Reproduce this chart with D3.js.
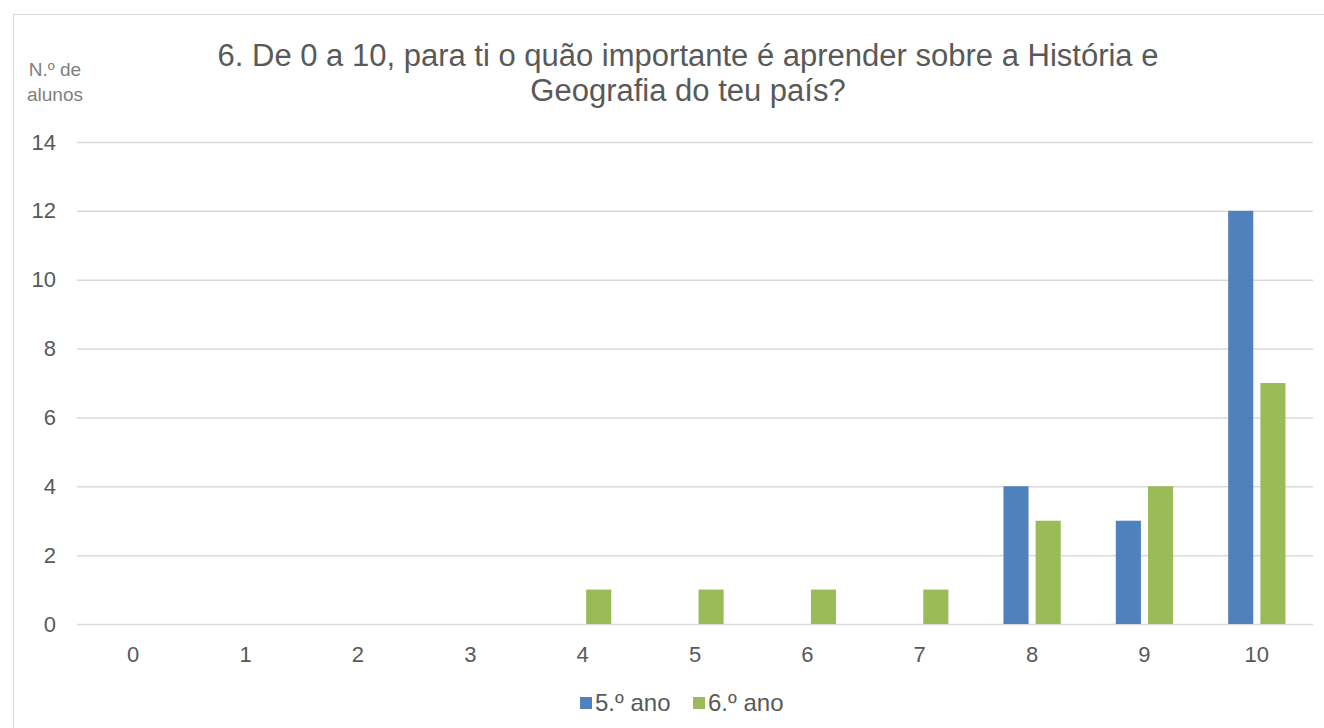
<!DOCTYPE html>
<html>
<head>
<meta charset="utf-8">
<script src="https://cdn.jsdelivr.net/npm/d3@7"></script>
<style>
  body { margin: 0; background: #fff; }
  svg { font-family: "Liberation Sans", Arial, sans-serif; }
</style>
</head>
<body>
<div id="chart"></div>
<script>
const categories = ["0", "1", "2", "3", "4", "5", "6", "7", "8", "9", "10"];
const seriesNames = ["5.º ano", "6.º ano"];
const ano5 = [0, 0, 0, 0, 0, 0, 0, 0, 4, 3, 12];
const ano6 = [0, 0, 0, 0, 1, 1, 1, 1, 3, 4, 7];
const yTicks = [0, 2, 4, 6, 8, 10, 12, 14];
const titleLines = ["6. De 0 a 10, para ti o quão importante é aprender sobre a História e", "Geografia do teu país?"];
const yLabelLines = ["N.º de", "alunos"];

const colors = ["#4F81BD", "#9BBB59"];

const width = 1324, height = 728;
const marginLeft = 77, marginRight = 11, marginTop = 142, marginBottom = 104;

const svg = d3.select("#chart").append("svg")
    .attr("width", width)
    .attr("height", height);

// chart border
svg.append("rect")
   .attr("x", 13.5).attr("y", 14.5)
   .attr("width", width).attr("height", height)
   .attr("fill", "none")
   .attr("stroke", "#d9d9d9");

const x0 = d3.scaleBand()
    .domain(categories)
    .range([marginLeft, width - marginRight])
    .paddingInner(0.49)
    .paddingOuter(0.245);

const x1 = d3.scaleBand()
    .domain(seriesNames)
    .range([0, x0.bandwidth()])
    .paddingInner(0.22);

const y = d3.scaleLinear()
    .domain([0, 14])
    .range([height - marginBottom, marginTop]);

// gridlines
svg.append("g")
   .selectAll("line")
   .data(yTicks)
   .join("line")
   .attr("x1", marginLeft).attr("x2", width - marginRight)
   .attr("y1", d => y(d) + 0.5).attr("y2", d => y(d) + 0.5)
   .attr("stroke", "#d9d9d9")
   .attr("stroke-width", 1.5);

// y axis labels
const yAxis = d3.axisLeft(y).tickValues(yTicks).tickSize(0).tickPadding(0);
const gy = svg.append("g")
   .attr("transform", `translate(56,0)`)
   .call(yAxis);
gy.select(".domain").remove();
gy.selectAll("text")
  .attr("font-size", 22)
  .attr("font-family", "'Liberation Sans', Arial, sans-serif")
  .attr("fill", "#595959");

// x axis labels
const xAxis = d3.axisBottom(x0).tickSize(0).tickPadding(0);
const gx = svg.append("g")
   .attr("transform", `translate(0,${height - marginBottom + 22})`)
   .call(xAxis);
gx.select(".domain").remove();
gx.selectAll("text")
  .attr("font-size", 22)
  .attr("font-family", "'Liberation Sans', Arial, sans-serif")
  .attr("fill", "#595959");

// bars
const rows = categories.map((c, i) => ({cat: c, values: [ano5[i], ano6[i]]}));
svg.append("g")
   .selectAll("g")
   .data(rows)
   .join("g")
   .attr("transform", d => `translate(${x0(d.cat)},0)`)
   .selectAll("rect")
   .data(d => d.values.map((v, j) => ({name: seriesNames[j], value: v, idx: j})))
   .join("rect")
   .attr("x", d => x1(d.name))
   .attr("width", x1.bandwidth())
   .attr("y", d => y(d.value))
   .attr("height", d => y(0) - y(d.value))
   .attr("fill", d => colors[d.idx]);

// title (two lines)
titleLines.forEach((line, i) => {
  svg.append("text")
     .attr("x", 688)
     .attr("y", 66 + i * 35)
     .attr("text-anchor", "middle")
     .attr("font-size", 31)
     .attr("fill", "#595959")
     .text(line);
});

// y axis title
yLabelLines.forEach((line, i) => {
  svg.append("text")
     .attr("x", 55)
     .attr("y", 76 + i * 25)
     .attr("text-anchor", "middle")
     .attr("font-size", 19)
     .attr("fill", "#7f7f7f")
     .text(line);
});

// legend
const legendX = [580, 693];
const legend = svg.append("g")
   .selectAll("g")
   .data(seriesNames)
   .join("g")
   .attr("transform", (d, i) => `translate(${legendX[i]},697)`);
legend.append("rect")
   .attr("width", 12).attr("height", 12)
   .attr("fill", (d, i) => colors[i]);
legend.append("text")
   .attr("x", 15)
   .attr("y", 14)
   .attr("font-size", 24)
   .attr("fill", "#595959")
   .text(d => d);
</script>
</body>
</html>
